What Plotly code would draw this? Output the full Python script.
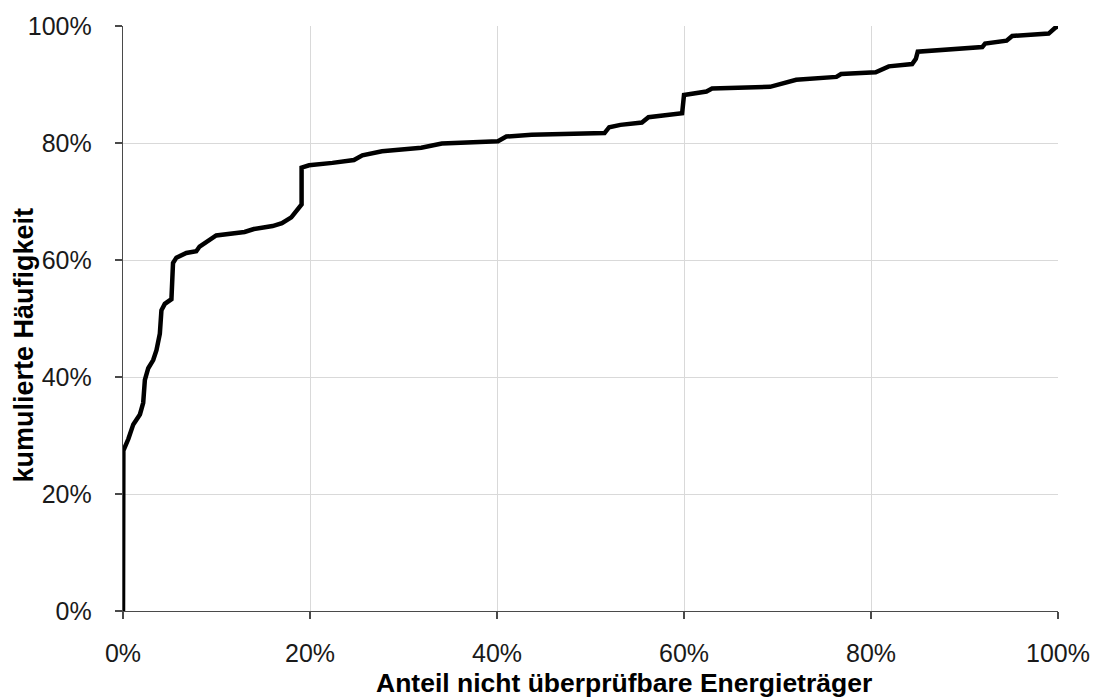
import plotly.graph_objects as go

# Anteil nicht überprüfbare Energieträger (x) vs. kumulierte Häufigkeit (y), in percent
anteil = [0.0, 0.04, 0.57, 1.1, 1.81, 2.16, 2.34, 2.7, 3.23, 3.58, 3.94, 4.11, 4.47, 5.18,
          5.35, 5.71, 6.77, 7.84, 8.19, 9.26, 9.97, 13.0, 14.0, 16.0, 17.0, 18.0, 18.8,
          19.1, 19.1, 19.9, 22.4, 24.7, 25.6, 27.7, 31.9, 34.1, 40.1, 41.0, 43.7, 48.6,
          51.5, 52.0, 53.2, 55.5, 56.2, 59.8, 60.0, 62.4, 63.0, 69.2, 70.6, 72.0, 76.3,
          76.8, 80.5, 81.9, 84.4, 84.8, 85.0, 91.9, 92.2, 94.5, 95.1, 99.0, 99.7, 100.0]
haeufigkeit = [0.0, 27.4, 29.4, 31.9, 33.6, 35.6, 39.5, 41.5, 42.9, 44.6, 47.4, 51.4, 52.5, 53.3,
               59.5, 60.4, 61.2, 61.5, 62.3, 63.5, 64.2, 64.8, 65.3, 65.8, 66.3, 67.3, 68.8,
               69.5, 75.8, 76.2, 76.6, 77.1, 77.9, 78.6, 79.2, 79.9, 80.3, 81.1, 81.4, 81.6,
               81.7, 82.7, 83.1, 83.5, 84.4, 85.1, 88.2, 88.8, 89.3, 89.6, 90.2, 90.8, 91.3,
               91.8, 92.1, 93.1, 93.5, 94.4, 95.6, 96.4, 97.0, 97.5, 98.3, 98.7, 99.7, 100.0]

tick_vals = [0, 20, 40, 60, 80, 100]
tick_text = ["0%", "20%", "40%", "60%", "80%", "100%"]

x_title = "Anteil nicht überprüfbare Energieträger"
y_title = "kumulierte Häufigkeit"

FONT = "Liberation Sans, Arial, sans-serif"

fig = go.Figure()
fig.add_trace(go.Scatter(
    x=anteil, y=haeufigkeit, mode="lines",
    line=dict(color="black", width=4.5),
    showlegend=False, hoverinfo="skip",
))

axis_common = dict(
    tickvals=tick_vals, ticktext=tick_text,
    showgrid=True, gridcolor="#d9d9d9", gridwidth=1,
    showline=True, linecolor="#4a4a4a", linewidth=1.3,
    ticks="outside", ticklen=7, tickcolor="#4a4a4a", tickwidth=1.3,
    tickfont=dict(family=FONT, size=25, color="#1a1a1a"),
    zeroline=False, fixedrange=True,
)

fig.update_layout(
    width=1102, height=699,
    margin=dict(l=123, r=40, t=17, b=88),
    paper_bgcolor="white", plot_bgcolor="white",
    xaxis=dict(range=[0, 100], ticklabelstandoff=13, **axis_common),
    yaxis=dict(range=[0, 100], ticklabelstandoff=18, **axis_common),
    annotations=[
        dict(text=x_title, xref="paper", yref="paper", x=0.5357, y=-0.1229,
             xanchor="center", yanchor="middle", showarrow=False,
             font=dict(family=FONT, size=26.5, color="#000000", weight="bold")),
        dict(text=y_title, xref="paper", yref="paper", x=-0.1054, y=0.4545,
             xanchor="center", yanchor="middle", showarrow=False, textangle=-90,
             font=dict(family=FONT, size=27, color="#000000", weight="bold")),
    ],
)

# remove the browser's default 8px body margin so the figure fills the window exactly
fig.write_html("out.html", config={"displayModeBar": False, "staticPlot": True},
               post_script="document.body.style.margin='0px';")
